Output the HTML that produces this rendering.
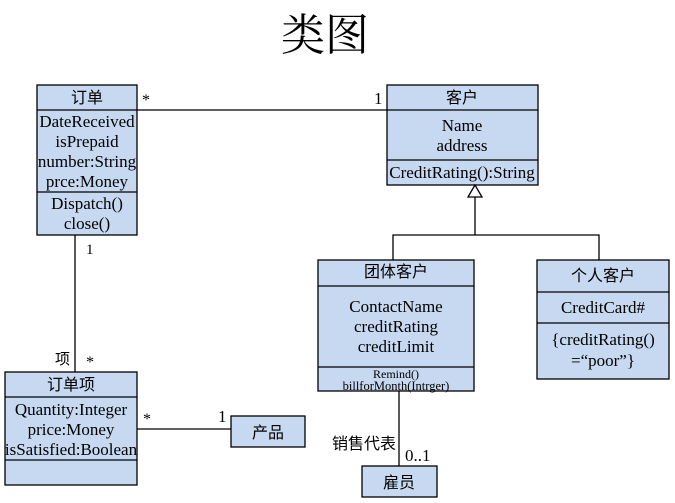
<!DOCTYPE html>
<html><head><meta charset="utf-8"><style>
html,body{margin:0;padding:0;background:#fff;width:675px;height:503px;overflow:hidden}
svg{display:block}
text{font-family:"Liberation Serif","Noto Sans CJK SC",serif;font-size:17px;fill:#000}
.c{font-family:"Liberation Sans","Noto Sans CJK SC",sans-serif;font-size:16px}
</style></head><body>
<svg width="675" height="503" viewBox="0 0 675 503">
<g fill="#c6d9f1" stroke="#000" stroke-width="1.3">
<rect x="37" y="85" width="100" height="150"/>
<rect x="387" y="85" width="151" height="100"/>
<rect x="318" y="260" width="156" height="131"/>
<rect x="537" y="260" width="132" height="119"/>
<rect x="5" y="372" width="132" height="113"/>
<rect x="231" y="416" width="74" height="31"/>
<rect x="362" y="466" width="75" height="31"/>
</g>
<g stroke="#000" stroke-width="1.3" fill="none">
<line x1="37" y1="110" x2="137" y2="110"/><line x1="37" y1="192" x2="137" y2="192"/>
<line x1="387" y1="110" x2="538" y2="110"/><line x1="387" y1="160" x2="538" y2="160"/>
<line x1="318" y1="286" x2="474" y2="286"/><line x1="318" y1="367" x2="474" y2="367"/>
<line x1="537" y1="292" x2="669" y2="292"/><line x1="537" y1="323" x2="669" y2="323"/>
<line x1="5" y1="397" x2="137" y2="397"/><line x1="5" y1="460" x2="137" y2="460"/>
<line x1="137" y1="110" x2="387" y2="110"/>
<line x1="75" y1="235" x2="75" y2="372"/>
<line x1="137" y1="429" x2="231" y2="429"/>
<line x1="399" y1="391" x2="399" y2="466"/>
<polygon points="475,185 468,197 482,197" fill="#fff"/>
<polyline points="475,197 475,235"/>
<polyline points="393,260 393,235 599,235 599,260"/>
</g>
<text x="325" y="50" style="font-family:'Noto Serif CJK SC','Noto Sans CJK SC',serif;font-size:44px" text-anchor="middle">类图</text>
<g text-anchor="middle">
<text x="87" y="103" class="c">订单</text>
<text x="87" y="127">DateReceived</text>
<text x="87" y="147">isPrepaid</text>
<text x="87" y="167">number:String</text>
<text x="87" y="187">prce:Money</text>
<text x="87" y="209">Dispatch()</text>
<text x="87" y="229">close()</text>
<text x="462" y="103" class="c">客户</text>
<text x="462" y="131">Name</text>
<text x="462" y="151">address</text>
<text x="462" y="178">CreditRating():String</text>
<text x="396" y="277" class="c">团体客户</text>
<text x="396" y="312">ContactName</text>
<text x="396" y="332">creditRating</text>
<text x="396" y="352">creditLimit</text>
<text x="396" y="378" style="font-size:12px">Remind()</text>
<text x="396" y="390" style="font-size:12.5px">billforMonth(Intrger)</text>
<text x="603" y="281" class="c">个人客户</text>
<text x="603" y="313">CreditCard#</text>
<text x="603" y="345">{creditRating()</text>
<text x="603" y="366">=“poor”}</text>
<text x="71" y="390" class="c">订单项</text>
<text x="71" y="415">Quantity:Integer</text>
<text x="71" y="435">price:Money</text>
<text x="71" y="455">isSatisfied:Boolean</text>
<text x="268" y="438" class="c">产品</text>
<text x="399" y="488" class="c">雇员</text>
</g>
<text x="142" y="105" style="font-size:16px">*</text>
<text x="374" y="104">1</text>
<text x="86" y="254" style="font-size:15px">1</text>
<text x="55" y="364" class="c" style="font-size:15px">项</text>
<text x="86" y="367" style="font-size:16px">*</text>
<text x="143" y="424" style="font-size:16px">*</text>
<text x="218" y="422">1</text>
<text x="332" y="449" class="c">销售代表</text>
<text x="405" y="461">0..1</text>
</svg>
</body></html>
